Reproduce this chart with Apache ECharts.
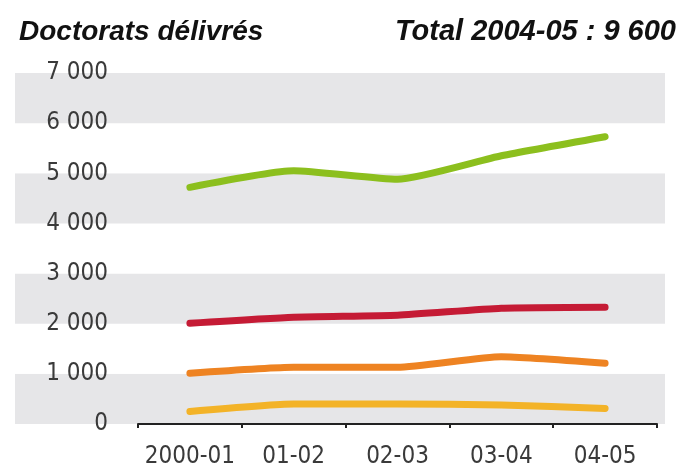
<!DOCTYPE html>
<html>
<head>
<meta charset="utf-8">
<script src="https://cdn.jsdelivr.net/npm/echarts@6/dist/echarts.min.js"></script>
<style>
html,body{margin:0;padding:0;background:#fff;}
#chart{width:681px;height:470px;}
</style>
</head>
<body>
<div id="chart"></div>
<script>
const categories = ['2000-01', '01-02', '02-03', '03-04', '04-05'];
const greenSeries = [4720, 5050, 4880, 5350, 5730];
const redSeries = [2010, 2130, 2170, 2310, 2330];
const orangeSeries = [1010, 1130, 1130, 1340, 1210];
const yellowSeries = [250, 400, 400, 380, 310];
const yTicks = [0, 1000, 2000, 3000, 4000, 5000, 6000, 7000];
const titleLeft = 'Doctorats délivrés';
const titleRight = 'Total 2004-05 : 9 600';

const labelFont = '"DejaVu Sans Condensed", "Liberation Sans", sans-serif';
const fmt = v => String(v).replace(/\B(?=(\d{3})+(?!\d))/g, ' ');

const chart = echarts.init(document.getElementById('chart'), null, {renderer: 'canvas'});

function line(name, data, color) {
  return {
    name: name, type: 'line', data: data, xAxisIndex: 1, yAxisIndex: 1,
    smooth: 0.18, symbol: 'none',
    lineStyle: {color: color, width: 7, cap: 'round', join: 'round'},
    z: 5
  };
}

chart.setOption({
  animation: false,
  backgroundColor: '#ffffff',
  title: [
    {text: titleLeft, left: 14, top: 13,
     textStyle: {fontFamily: '"Liberation Sans", Arial, sans-serif', fontSize: 28, fontStyle: 'italic', fontWeight: 'bold', color: '#111'}},
    {text: titleRight, right: 0, top: 12,
     textStyle: {fontFamily: '"Liberation Sans", Arial, sans-serif', fontSize: 29, fontStyle: 'italic', fontWeight: 'bold', color: '#111'}}
  ],
  grid: [
    {left: 15, right: 16, top: 73, bottom: 46},
    {left: 138, right: 24, top: 73, bottom: 46}
  ],
  xAxis: [
    {gridIndex: 0, type: 'value', show: false, min: 0, max: 1},
    {gridIndex: 1, type: 'category', data: categories, boundaryGap: true,
     axisLine: {show: true, lineStyle: {color: '#222', width: 2}},
     axisTick: {show: true, length: 4, lineStyle: {color: '#222', width: 2}},
     axisLabel: {interval: 0, margin: 21, fontFamily: labelFont, fontSize: 24, color: '#3a3a3a'},
     splitLine: {show: false}}
  ],
  yAxis: [
    {gridIndex: 0, type: 'value', min: 0, max: 7000, interval: 1000,
     axisLine: {show: false}, axisTick: {show: false}, axisLabel: {show: false},
     splitLine: {show: false},
     splitArea: {show: true, areaStyle: {color: ['#e6e6e8', '#ffffff']}}},
    {gridIndex: 1, type: 'value', min: yTicks[0], max: yTicks[yTicks.length - 1], interval: 1000,
     axisLine: {show: false}, axisTick: {show: false},
     axisLabel: {margin: 30, fontFamily: labelFont, fontSize: 24, color: '#3a3a3a',
       padding: [0, 0, 8, 0], formatter: v => fmt(v)},
     splitLine: {show: false}}
  ],
  series: [
    line('green', greenSeries, '#8cbf1e'),
    line('red', redSeries, '#c51b35'),
    line('orange', orangeSeries, '#ee8322'),
    line('yellow', yellowSeries, '#f3b328')
  ]
});
</script>
</body>
</html>
